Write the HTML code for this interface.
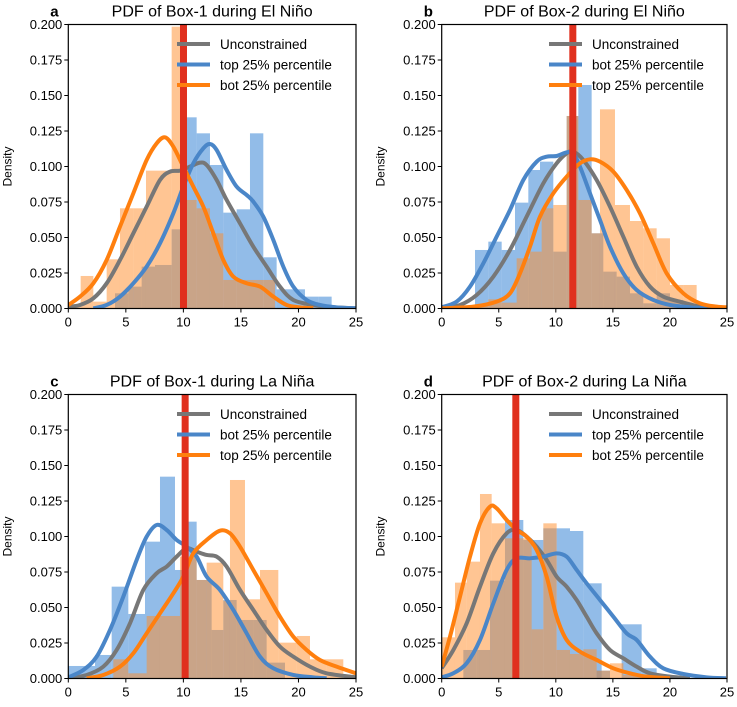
<!DOCTYPE html>
<html><head><meta charset="utf-8"><style>
html,body{margin:0;padding:0;background:#fff}
svg text{font-family:"Liberation Sans",Arial,sans-serif;fill:#000}
</style></head><body>
<svg id="s" width="737" height="702" viewBox="0 0 737 702" xmlns="http://www.w3.org/2000/svg"></svg>
<script>
const S=document.getElementById('s');
let out='';
function smooth(p){let d='M'+p[0][0]+','+p[0][1];for(let i=0;i<p.length-1;i++){const p0=p[i-1]||p[i],p1=p[i],p2=p[i+1],p3=p[i+2]||p2;
d+=` C${p1[0]+(p2[0]-p0[0])/6},${p1[1]+(p2[1]-p0[1])/6} ${p2[0]-(p3[0]-p1[0])/6},${p2[1]-(p3[1]-p1[1])/6} ${p2[0]},${p2[1]}`;}return d;}
const BC='rgba(74,144,217,0.6)',OC='rgba(255,140,40,0.5)';
function bars(b,c){let s='';for(const [a,e,t] of b){s+=`<rect x="${a}" y="${t}" width="${e-a}" height="${865-t}" fill="${c}"/>`;}return s;}
const P=[
{ox:60,oy:20,L:68.3,R:356,T:24.5,B:308.5,letter:'a',title:'PDF of Box-1 during El Niño',red:370,
 leg:['top 25% percentile','bot 25% percentile'],
 blue:[[165,205,820],[205,245,800],[245,285,740],[285,335,735],[335,360,628],[375,410,292],[410,450,340],[450,490,435],[490,530,578],[530,570,568],[570,610,340],[610,650,712],[650,690,808],[690,735,808],[735,775,830],[775,815,830]],
 orange:[[25,62,855],[62,100,768],[100,140,845],[140,180,718],[180,220,565],[220,258,565],[258,335,452],[335,360,20],[375,410,540],[410,450,565],[450,490,640],[490,530,780],[530,570,780],[570,610,780],[610,645,780]],
 cb:[[100,865],[140,855],[180,830],[220,790],[260,740],[300,670],[340,580],[370,500],[400,430],[430,385],[450,372],[470,390],[500,450],[530,500],[560,525],[580,545],[610,590],[640,660],[670,740],[700,800],[740,840],[780,855],[830,862],[888,865]],
 cg:[[25,860],[60,855],[100,835],[140,790],[180,720],[220,640],[260,560],[300,480],[330,455],[360,452],[390,440],[420,428],[440,435],[470,480],[500,540],[540,610],[580,680],[620,740],[660,800],[700,840],[760,855],[820,862],[888,865]],
 co:[[25,855],[60,830],[100,790],[140,720],[180,620],[220,520],[260,420],[290,370],[315,352],[340,380],[370,440],[400,500],[430,560],[460,640],[490,720],[520,770],[560,790],[600,800],[640,830],[680,855],[720,862],[760,865]]},
{ox:430,oy:20,L:441.7,R:727,T:24.5,B:308.5,letter:'b',title:'PDF of Box-2 during El Niño',red:428,
 leg:['bot 25% percentile','top 25% percentile'],
 blue:[[135,175,690],[175,215,665],[215,255,690],[255,295,548],[295,330,450],[330,370,425],[370,410,695],[410,445,288],[445,485,195],[485,520,640],[520,560,755],[560,600,770],[600,640,820],[640,680,850],[680,720,820],[720,760,840]],
 orange:[[135,175,855],[175,215,838],[215,260,848],[260,300,715],[300,335,695],[335,370,565],[370,410,555],[410,445,288],[445,485,540],[485,510,640],[510,555,268],[555,600,555],[600,640,603],[640,680,625],[680,720,655],[720,760,795],[760,800,795],[800,840,855]],
 cb:[[35,862],[80,845],[120,800],[160,730],[200,650],[240,570],[280,480],[320,425],[350,410],[380,408],[410,397],[430,400],[450,440],[480,520],[510,600],[540,680],[580,760],[620,810],[670,840],[720,855],[780,862],[830,865]],
 cg:[[35,865],[90,855],[140,825],[190,770],[240,690],[290,590],[340,490],[380,430],[410,400],[430,395],[460,420],[500,480],[540,560],[580,650],[620,740],[660,800],[700,830],[750,845],[800,858],[850,865]],
 co:[[35,865],[130,860],[200,845],[240,820],[270,760],[300,680],[330,590],[370,520],[410,470],[450,430],[480,418],[510,425],[550,455],[590,510],[630,580],[670,670],[710,760],[760,820],[810,850],[860,860],[890,862]]},
{ox:60,oy:390,L:68.3,R:356,T:394.5,B:678.5,letter:'c',title:'PDF of Box-1 during La Niña',red:375,
 leg:['bot 25% percentile','top 25% percentile'],
 blue:[[25,60,828],[60,105,828],[105,155,795],[155,205,590],[205,255,672],[255,300,455],[300,345,260],[345,375,540],[375,410,395],[410,455,570],[455,490,720],[490,530,630],[530,580,690],[580,620,690],[620,675,818]],
 orange:[[160,205,808],[205,260,850],[260,300,678],[300,360,678],[360,410,500],[410,440,570],[440,490,518],[490,510,632],[510,555,270],[555,600,628],[600,655,540],[655,710,758],[710,750,738],[750,800,808],[800,850,808]],
 cb:[[25,862],[70,840],[110,800],[150,720],[190,620],[230,510],[260,440],[290,405],[320,420],[350,450],[380,470],[410,500],[440,560],[480,600],[520,660],[560,730],[600,800],[640,835],[700,855],[760,862],[800,865]],
 cg:[[25,865],[80,855],[130,830],[170,780],[210,700],[250,600],[290,550],[320,530],[350,500],[380,475],[410,485],[440,495],[470,500],[500,530],[540,600],[580,660],[620,720],[660,770],[700,800],[750,830],[800,850],[888,862]],
 co:[[80,865],[130,855],[180,830],[220,790],[260,730],[300,670],[340,610],[370,560],[400,490],[440,450],[480,422],[510,430],[540,470],[580,540],[620,610],[660,680],[700,740],[740,780],[780,810],[830,830],[888,850]]},
{ox:430,oy:390,L:441.7,R:727,T:394.5,B:678.5,letter:'d',title:'PDF of Box-2 during La Niña',red:257,
 leg:['top 25% percentile','bot 25% percentile'],
 blue:[[100,140,780],[140,180,780],[180,225,572],[225,280,390],[280,340,450],[340,380,415],[380,420,415],[420,460,423],[460,515,580],[500,540,842],[575,635,703],[635,680,835],[680,720,855]],
 orange:[[35,75,742],[75,110,578],[110,150,515],[150,185,312],[185,225,400],[225,260,445],[260,305,445],[305,340,718],[340,380,400],[380,420,780],[420,460,792],[460,500,778],[500,540,842],[540,580,820],[580,640,855]],
 cb:[[35,862],[70,850],[110,820],[150,750],[190,640],[230,540],[260,505],[300,505],[340,500],[380,490],[410,500],[440,540],[470,580],[510,630],[550,680],[590,730],[620,750],[660,800],[700,835],[760,852],[830,862],[888,865]],
 cg:[[35,835],[70,780],[110,700],[150,590],[190,490],[230,430],[260,420],[290,440],[320,470],[350,510],[380,560],[410,590],[440,630],[470,680],[500,730],[540,780],[580,805],[620,830],[660,850],[720,860],[780,865]],
 co:[[35,830],[60,740],[90,620],[120,500],[150,400],[180,350],[200,355],[230,390],[260,420],[290,440],[320,480],[350,560],[380,680],[410,750],[450,785],[500,810],[550,835],[600,850],[650,860],[720,865]]}
];
for(const p of P){
 const id='c'+p.letter;
 out+=`<clipPath id="${id}"><rect x="${p.L}" y="${p.T}" width="${p.R-p.L}" height="${p.B-p.T}"/></clipPath>`;
 out+=`<g clip-path="url(#${id})"><g transform="translate(${p.ox},${p.oy}) scale(0.3333)">`;
 out+=bars(p.blue,BC)+bars(p.orange,OC);
 out+=`<path d="${smooth(p.cg)}" fill="none" stroke="#777" stroke-width="12"/>`;
 out+=`<path d="${smooth(p.cb)}" fill="none" stroke="#4a86c8" stroke-width="12"/>`;
 out+=`<path d="${smooth(p.co)}" fill="none" stroke="#ff7f0e" stroke-width="12"/>`;
 out+=`<rect x="${p.red-10}" y="-20" width="21" height="900" fill="#e0301e"/>`;
 out+=`</g></g>`;
 out+=`<rect x="${p.L}" y="${p.T}" width="${p.R-p.L}" height="${p.B-p.T}" fill="none" stroke="#000" stroke-width="1.2"/>`;
 const W=p.R-p.L,H=p.B-p.T;
 for(let i=0;i<=5;i++){const x=p.L+W*i/5;out+=`<line x1="${x}" y1="${p.B}" x2="${x}" y2="${p.B+4}" stroke="#000"/><text x="${x}" y="${p.B+18}" font-size="13" text-anchor="middle">${i*5}</text>`;}
 for(let i=0;i<=8;i++){const y=p.B-H*i/8;out+=`<line x1="${p.L-4}" y1="${y}" x2="${p.L}" y2="${y}" stroke="#000"/><text x="${p.L-6}" y="${y+4.5}" font-size="13" text-anchor="end">${(i*0.025).toFixed(3)}</text>`;}
 out+=`<text x="${p.L-18}" y="${p.T-8}" font-size="15" font-weight="bold">${p.letter}</text>`;
 out+=`<text x="${(p.L+p.R)/2}" y="${p.T-8}" font-size="16" text-anchor="middle">${p.title}</text>`;
 out+=`<text transform="translate(${p.L-57},${(p.T+p.B)/2}) rotate(-90)" font-size="12" text-anchor="middle">Density</text>`;
 const lx=p.ox+(p.letter=='a'||p.letter=='c'?117:119),ty=p.oy;
 const cols=['#777','#4a86c8','#ff7f0e'],labs=['Unconstrained',p.leg[0],p.leg[1]];
 for(let k=0;k<3;k++){const y=ty+24+k*20.5;out+=`<line x1="${lx}" y1="${y}" x2="${lx+33}" y2="${y}" stroke="${cols[k]}" stroke-width="4"/><text x="${lx+43}" y="${y+5}" font-size="13.5">${labs[k]}</text>`;}
}
S.innerHTML=out;
</script>
</body></html>
